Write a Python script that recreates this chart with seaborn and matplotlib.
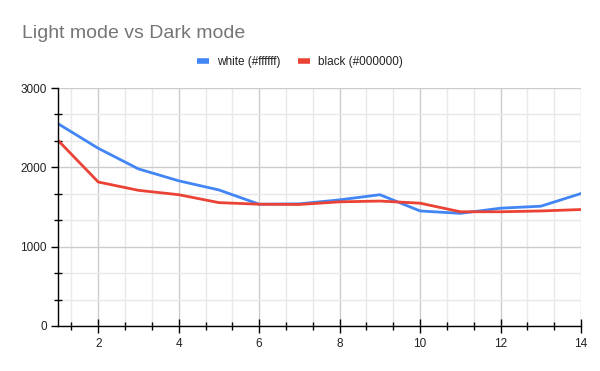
import numpy as np
import pandas as pd
import matplotlib
matplotlib.use("Agg")
import matplotlib.pyplot as plt
from matplotlib.ticker import MultipleLocator
import seaborn as sns

# values
steps = [1, 2, 3, 4, 5, 6, 7, 8, 9, 10, 11, 12, 13, 14]
white_vals = [2550, 2240, 1980, 1830, 1715, 1535, 1540, 1590, 1655, 1450, 1420, 1485, 1510, 1670]
black_vals = [2340, 1815, 1710, 1655, 1555, 1535, 1532, 1565, 1575, 1548, 1440, 1440, 1450, 1468]
series_names = ["white (#ffffff)", "black (#000000)"]
series_colors = ["#4285F4", "#EA4335"]

df = pd.DataFrame({
    "step": steps * 2,
    "value": white_vals + black_vals,
    "series": [series_names[0]] * len(steps) + [series_names[1]] * len(steps),
})

sns.set_theme(style="white")
plt.rcParams["font.family"] = ["Liberation Sans", "DejaVu Sans"]

fig = plt.figure(figsize=(6, 3.71), dpi=100)
ax = fig.add_axes([0.0967, 0.1213, 0.8717, 0.6415])

sns.lineplot(data=df, x="step", y="value", hue="series",
             palette=dict(zip(series_names, series_colors)),
             linewidth=2, ax=ax, legend=False)

ax.set_xlim(1, 14)
ax.set_ylim(0, 3000)
ax.xaxis.set_major_locator(MultipleLocator(2))
ax.xaxis.set_minor_locator(MultipleLocator(2 / 3))
ax.yaxis.set_major_locator(MultipleLocator(1000))
ax.yaxis.set_minor_locator(MultipleLocator(1000 / 3))

ax.grid(which="major", color="#cccccc", linewidth=1)
ax.grid(which="minor", color="#e8e8e8", linewidth=1)
ax.set_axisbelow(True)

for side in ["top", "right"]:
    ax.spines[side].set_visible(False)
for side in ["left", "bottom"]:
    ax.spines[side].set_color("black")
    ax.spines[side].set_linewidth(1)

ax.tick_params(axis="x", which="major", direction="inout", length=10, width=1,
               color="black", labelsize=8.5, labelcolor="#222222", pad=4)
ax.tick_params(axis="x", which="minor", direction="inout", length=6, width=1,
               color="black")
ax.tick_params(axis="y", which="major", direction="out", length=5, width=1,
               color="black", labelsize=8.5, labelcolor="#222222", pad=3)
ax.tick_params(axis="y", which="minor", direction="inout", length=6, width=1,
               color="black")
ax.tick_params(which="both", bottom=True, left=True)
ax.set_xlabel("")
ax.set_ylabel("")

fig.text(0.036, 0.897, "Light mode vs Dark mode", fontsize=14, color="#757575",
         ha="left", va="baseline")

handles = [plt.Line2D([], [], color=c, linewidth=4, solid_capstyle="butt")
           for c in series_colors]
fig.legend(handles, series_names, loc="center", bbox_to_anchor=(0.5, 0.833),
           ncol=2, frameon=False, fontsize=8.5, handlelength=1.0,
           handletextpad=0.7, columnspacing=1.5, labelcolor="#222222")

fig.savefig("out.png", dpi=100)
